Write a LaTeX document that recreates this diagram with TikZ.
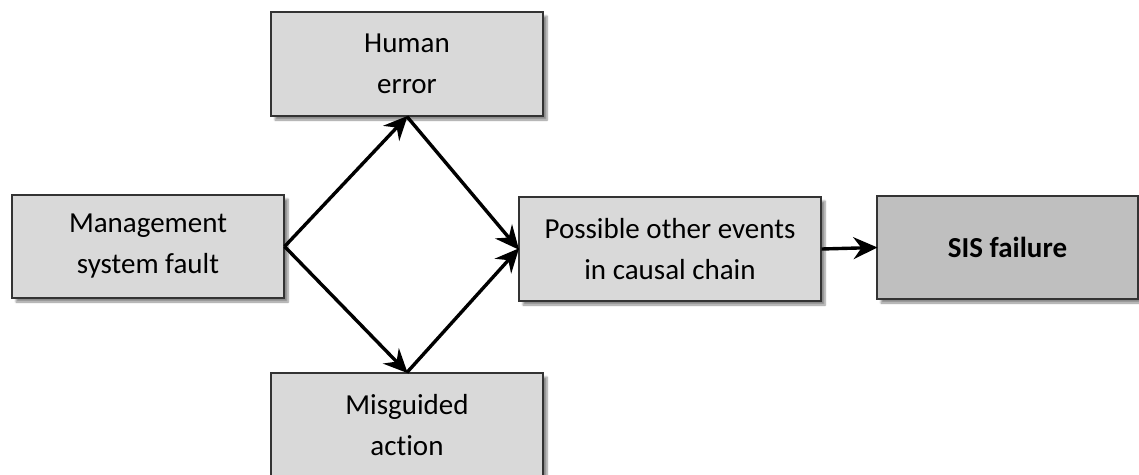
\documentclass[tikz,border=0pt]{standalone}
\usepackage{fontspec}
\setmainfont[Ligatures=NoCommon]{Carlito}
\usetikzlibrary{arrows.meta,shadows.blur}
\begin{document}
\begin{tikzpicture}[x=1pt,y=-1pt,
  box/.style={draw=black!80, line width=1.2pt, fill=black!15, rectangle,
    inner sep=0pt, align=center, font=\fontsize{29}{41}\selectfont,
    blur shadow={shadow xshift=4pt, shadow yshift=-4pt, shadow blur steps=6, shadow opacity=45}},
  conn/.style={line width=3.4pt, -{Stealth[length=24pt,width=22pt,inset=8pt]}, shorten >=-1pt}]
\useasboundingbox (0,0) rectangle (1139,474);
\node[box, minimum width=272pt, minimum height=103pt] (mgmt) at (148,246.5) {Management\\system fault};
\node[box, minimum width=272pt, minimum height=104pt] (human) at (407,64) {Human\\error};
\node[box, minimum width=272pt, minimum height=104pt] (misg) at (407,425) {Misguided\\action};
\node[box, minimum width=302pt, minimum height=104pt] (poss) at (670,249) {Possible other events\\in causal chain};
\node[box, fill=black!25, minimum width=261pt, minimum height=103pt, font=\fontsize{29}{41}\selectfont\bfseries] (sis) at (1007.5,247.5) {SIS failure};
\draw[conn] (mgmt.east) -- (human.south);
\draw[conn] (mgmt.east) -- (misg.north);
\draw[conn] (human.south) -- (poss.west);
\draw[conn] (misg.north) -- (poss.west);
\draw[conn] (poss.east) -- (sis.west);
\end{tikzpicture}
\end{document}
